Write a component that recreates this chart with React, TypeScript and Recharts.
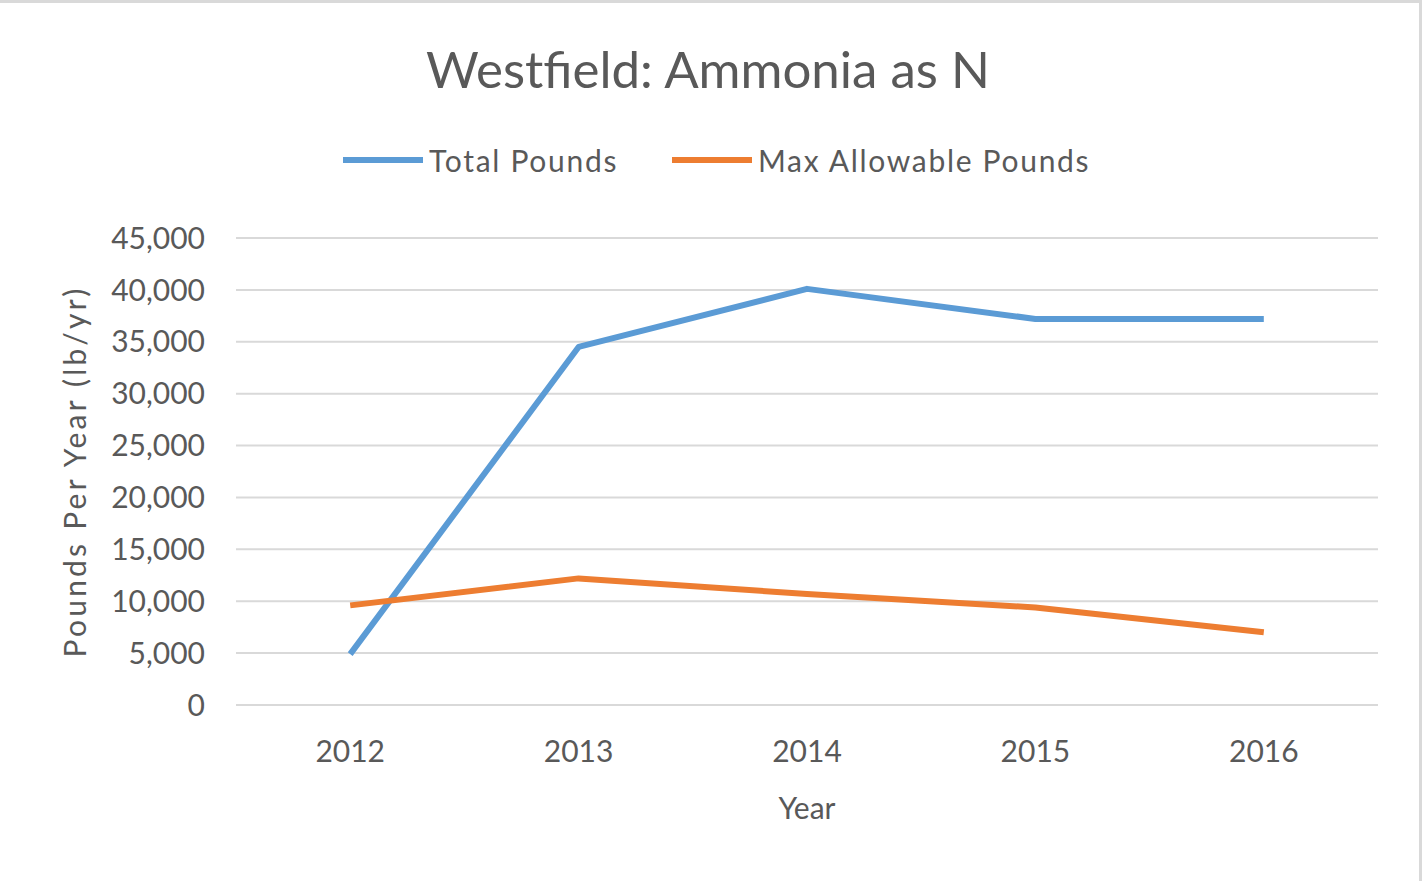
import React from 'react';
import { LineChart, Line, XAxis, YAxis, CartesianGrid, Legend } from 'recharts';

const years = ['2012', '2013', '2014', '2015', '2016'];
const totalPounds = [4900, 34500, 40100, 37200, 37200];
const maxAllowablePounds = [9600, 12200, 10700, 9400, 7000];
const yTicks = [0, 5000, 10000, 15000, 20000, 25000, 30000, 35000, 40000, 45000];

const data = years.map((y, i) => ({
  year: y,
  total: totalPounds[i],
  max: maxAllowablePounds[i],
}));

const FONT = 'Lato, "Open Sans", sans-serif';
const TEXT = '#595959';

const fmt = (v: number) => v.toLocaleString('en-US');

const LegendContent = () => (
  <div
    style={{
      position: 'relative',
      height: 40,
      fontFamily: FONT,
      fontSize: 30,
      color: TEXT,
      letterSpacing: 1.7,
    }}
  >
    {[
      { name: 'Total Pounds', color: '#5b9bd5', left: 343 },
      { name: 'Max Allowable Pounds', color: '#ed7d31', left: 672 },
    ].map((it) => (
      <div
        key={it.name}
        style={{ position: 'absolute', left: it.left, top: 0, height: 40, display: 'flex', alignItems: 'center', whiteSpace: 'nowrap' }}
      >
        <div style={{ width: 80, height: 6, background: it.color, marginRight: 6 }} />
        <span>{it.name}</span>
      </div>
    ))}
  </div>
);

export default function App() {
  return (
    <div
      style={{
        position: 'absolute',
        left: 0,
        top: 0,
        width: 1422,
        height: 881,
        background: '#fff',
        boxSizing: 'border-box',
        borderTop: '3px solid #d9d9d9',
        borderRight: '3px solid #d9d9d9',
        overflow: 'hidden',
      }}
    >
      <div
        style={{
          position: 'absolute',
          left: 0,
          top: 36,
          width: 1416,
          textAlign: 'center',
          fontFamily: FONT,
          fontSize: 51,
          lineHeight: '60px',
          color: TEXT,
        }}
      >
        Westfield: Ammonia as N
      </div>
      <div style={{ position: 'absolute', left: 0, top: -3 }}>
        <LineChart
          width={1422}
          height={881}
          data={data}
          margin={{ top: 198, right: 44, bottom: 56, left: 20 }}
        >
          <CartesianGrid vertical={false} stroke="#d9d9d9" strokeWidth={2} />
          <XAxis
            dataKey="year"
            scale="band"
            height={120}
            axisLine={false}
            tickLine={false}
            tickSize={0}
            tickMargin={36}
            tick={{ fill: TEXT, fontSize: 30, fontFamily: FONT }}
            label={{
              value: 'Year',
              position: 'insideBottom',
              offset: 6,
              fill: TEXT,
              fontSize: 30,
              fontFamily: FONT,
            }}
          />
          <YAxis
            width={216}
            domain={[0, 45000]}
            ticks={yTicks}
            interval={0}
            axisLine={false}
            tickLine={false}
            tickSize={0}
            tickMargin={31}
            tickFormatter={fmt}
            tick={{ fill: TEXT, fontSize: 30, fontFamily: FONT }}
            label={{
              value: 'Pounds Per Year (lb/yr)',
              angle: -90,
              position: 'insideLeft',
              offset: 55,
              fill: TEXT,
              fontSize: 30,
              fontFamily: FONT,
              style: { textAnchor: 'middle', letterSpacing: 3.2 },
            }}
          />
          <Legend
            verticalAlign="top"
            align="center"
            content={<LegendContent />}
            wrapperStyle={{ top: 140, left: 0, width: 1422 }}
          />
          <Line
            type="linear"
            dataKey="total"
            name="Total Pounds"
            stroke="#5b9bd5"
            strokeWidth={6}
            dot={false}
            activeDot={false}
            strokeLinejoin="round"
            isAnimationActive={false}
          />
          <Line
            type="linear"
            dataKey="max"
            name="Max Allowable Pounds"
            stroke="#ed7d31"
            strokeWidth={6}
            dot={false}
            activeDot={false}
            strokeLinejoin="round"
            isAnimationActive={false}
          />
        </LineChart>
      </div>
    </div>
  );
}
